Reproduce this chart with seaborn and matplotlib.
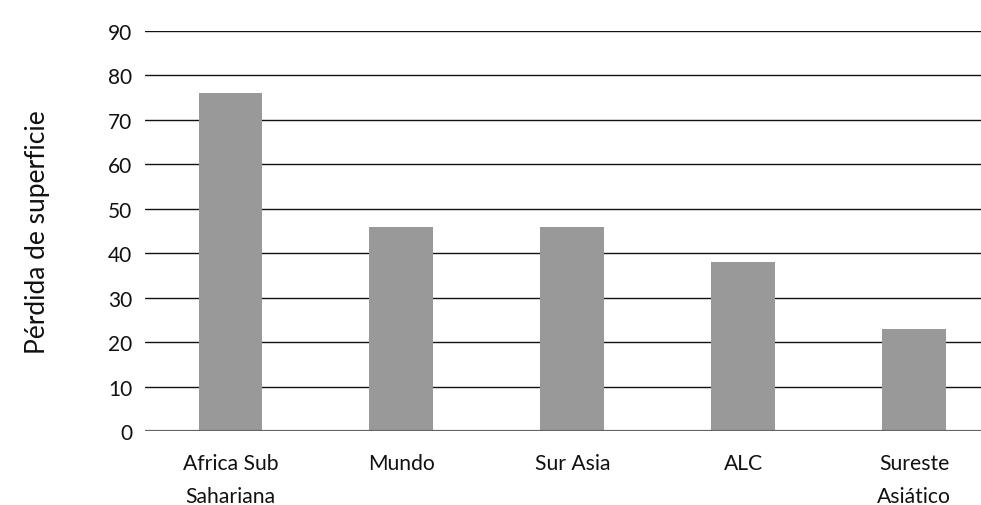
import matplotlib
matplotlib.use("Agg")
import matplotlib.pyplot as plt
import seaborn as sns
import pandas as pd

regiones = ["Africa Sub\nSahariana", "Mundo", "Sur Asia", "ALC", "Sureste\nAsiático"]
perdida = [76, 46, 46, 38, 23]
yticks = [0, 10, 20, 30, 40, 50, 60, 70, 80, 90]

sns.set_style("white")
plt.rcParams["font.family"] = ["Lato", "DejaVu Sans"]

df = pd.DataFrame({"region": regiones, "perdida": perdida})

fig = plt.figure(figsize=(9.81, 5.06), dpi=100)
ax = fig.add_axes([145 / 981, 74 / 506, 1 - 145 / 981, 400 / 506])

sns.barplot(data=df, x="region", y="perdida", color="#999999", width=0.374,
            saturation=1, ax=ax, linewidth=0, edgecolor="none")
for p in ax.patches:
    p.set_zorder(3)

ax.set_ylim(0, 90)
ax.set_yticks(yticks)
ax.set_xlim(-0.5, 4.39)
for y in yticks:
    if y:
        ax.axhline(y, color="#111111", lw=1.0, zorder=1)
    else:
        ax.axhline(y, color="#666666", lw=1.6, zorder=4)

for s in ax.spines.values():
    s.set_visible(False)

ax.tick_params(axis="both", length=0, colors="#111111")
ax.tick_params(axis="y", pad=9, labelsize=15)
ax.tick_params(axis="x", pad=16, labelsize=15.2)
for lbl in ax.get_xticklabels():
    lbl.set_linespacing(1.8)
    lbl.set_verticalalignment("top")

ax.set_xlabel("")
ax.set_ylabel("Pérdida de superficie", fontsize=19, color="#111111", labelpad=42)

fig.savefig("out.png", dpi=100)
